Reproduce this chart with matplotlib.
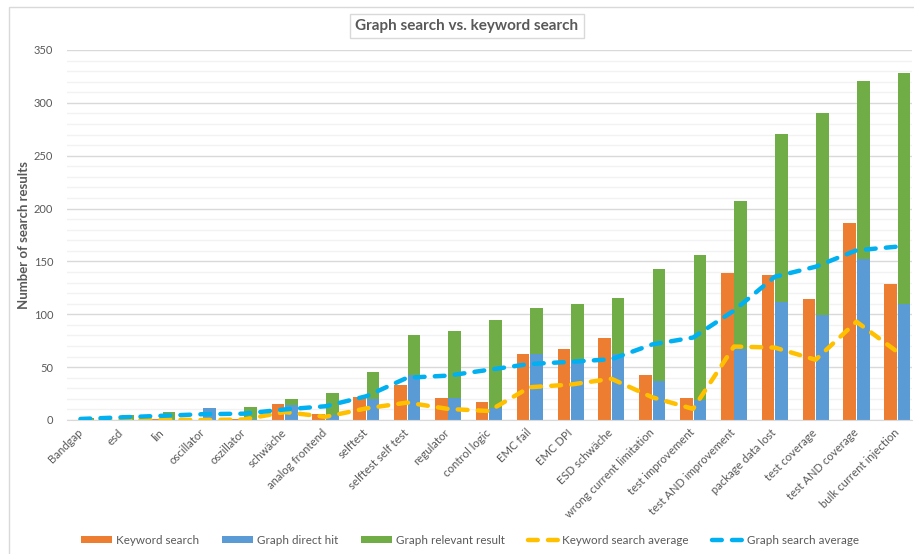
import numpy as np
import matplotlib
matplotlib.use("Agg")
import matplotlib.pyplot as plt
import matplotlib.transforms as mtransforms
from matplotlib.patches import Rectangle

plt.rcParams["font.family"] = ["Lato", "DejaVu Sans"]

# Daten
categories = [
    "Bandgap", "esd", "lin", "oscillator", "oszillator", "schwäche",
    "analog frontend", "selftest", "selftest self test", "regulator",
    "control logic", "EMC fail", "EMC DPI", "ESD schwäche",
    "wrong current limitation", "test improvement", "test AND improvement",
    "package data lost", "test coverage", "test AND coverage",
    "bulk current injection",
]
keyword_search = [0, 0, 1, 0, 1, 15, 6, 22, 33, 21, 17, 62, 67, 78, 43, 21, 139, 137, 114, 186, 129]
graph_direct = [0, 0, 0, 11, 1, 14, 5, 20, 43, 21, 11, 62, 57, 62, 37, 19, 67, 112, 99, 152, 110]
graph_relevant = [2, 5, 8, 0, 11, 6, 21, 25, 37, 63, 84, 44, 53, 53, 106, 137, 140, 159, 191, 169, 218]
keyword_avg = [0, 0, 0.5, 0, 0.5, 7.5, 3, 11, 16.5, 10.5, 8.5, 31, 33.5, 39, 21.5, 10.5, 69.5, 68.5, 57, 93, 64.5]
graph_avg = [1, 2.5, 4, 5.5, 6, 10, 13, 22.5, 40, 42, 47.5, 53, 55, 57.5, 71.5, 78, 103.5, 135.5, 145, 160.5, 164]

c_orange = "#ED7D31"
c_blue = "#5B9BD5"
c_green = "#70AD47"
c_yellow = "#FFC000"
c_cyan = "#00B0F0"
c_text = "#595959"

fig = plt.figure(figsize=(9.14, 5.54), dpi=100)
ax = fig.add_axes([67 / 914, 134 / 554, 845 / 914, 370 / 554])

x = np.arange(len(categories))
w = 0.31
off = 0.165

b1 = ax.bar(x - off, keyword_search, w, color=c_orange, label="Keyword search", zorder=2)
b2 = ax.bar(x + off, graph_direct, w, color=c_blue, label="Graph direct hit", zorder=2)
b3 = ax.bar(x + off, graph_relevant, w, bottom=graph_direct, color=c_green,
            label="Graph relevant result", zorder=2)

l1, = ax.plot(x, keyword_avg, color=c_yellow, lw=3.2, label="Keyword search average",
              dash_capstyle="round", zorder=3)
l1.set_dashes((2.2, 2.3))
l2, = ax.plot(x, graph_avg, color=c_cyan, lw=3.2, label="Graph search average",
              dash_capstyle="round", zorder=4)
l2.set_dashes((2.2, 2.3))

ax.set_xlim(-0.33, 20.36)
ax.set_ylim(0, 350)
ax.set_yticks(np.arange(0, 351, 50))
ax.set_yticks(np.arange(0, 351, 10), minor=True)
ax.grid(axis="y", which="major", color="#d9d9d9", lw=1, zorder=0)
ax.grid(axis="y", which="minor", color="#f2f2f2", lw=1, zorder=0)
ax.set_axisbelow(True)
for s in ["top", "right", "left"]:
    ax.spines[s].set_visible(False)
ax.spines["bottom"].set_color("#d9d9d9")
ax.tick_params(axis="both", which="both", length=0)
ax.tick_params(axis="y", labelsize=8, labelcolor=c_text, pad=10)

ax.set_xticks(x)
ax.set_xticklabels(categories, rotation=45, ha="right", rotation_mode="anchor",
                   fontsize=8.2, color=c_text)
ax.tick_params(axis="x", pad=5)
shift = mtransforms.ScaledTranslation(-4 / 100, 0, fig.dpi_scale_trans)
for lab in ax.get_xticklabels():
    lab.set_transform(lab.get_transform() + shift)

ax.set_ylabel("Number of search results", fontsize=9.5, fontweight="bold", color=c_text)
ax.yaxis.set_label_coords(-37 / 845, 0.5)

fig.text(467 / 914, 1 - 26 / 554, "Graph search vs. keyword search", ha="center", va="center",
         fontsize=11, fontweight="bold", color=c_text,
         bbox=dict(boxstyle="square,pad=0.35", fc="white", ec="#d9d9d9", lw=1))

# Rahmen des Diagrammbereichs
fig.patches.append(Rectangle((9 / 914, -0.1), 2, 1 - 7 / 554 + 0.1, transform=fig.transFigure,
                             fill=False, ec="#d9d9d9", lw=1))

fig.legend([b1, b2, b3, l1, l2],
           ["Keyword search", "Graph direct hit", "Graph relevant result",
            "Keyword search average", "Graph search average"],
           loc="center", bbox_to_anchor=(470 / 914, 14 / 554), ncol=5, frameon=False,
           fontsize=8.4, labelcolor=c_text, handlelength=2.6, handleheight=0.6,
           handletextpad=0.35, columnspacing=2.0)

fig.savefig("out.png", dpi=100)
